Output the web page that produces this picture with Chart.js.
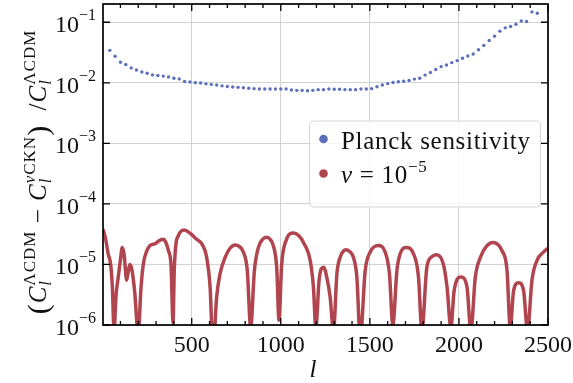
<!DOCTYPE html>
<html>
<head>
<meta charset="utf-8">
<script src="https://cdn.jsdelivr.net/npm/chart.js@4.4.0/dist/chart.umd.min.js"></script>
<style>
  html, body { margin: 0; padding: 0; background: #fff; }
</style>
</head>
<body>
<canvas id="chart" width="573" height="383"></canvas>
<script>
// Planck sensitivity (binned multipoles)
const planckL = [40, 70, 100, 130, 160, 190, 220, 250, 280, 310, 340, 370, 400, 430, 460, 490, 520, 550, 580, 610,
    640, 670, 700, 730, 760, 790, 820, 850, 880, 910, 940, 970, 1000, 1030, 1060, 1090, 1120, 1150, 1180, 1210,
    1240, 1270, 1300, 1330, 1360, 1390, 1420, 1450, 1480, 1510, 1540, 1570, 1600, 1630, 1660, 1690, 1720, 1750, 1780, 1810,
    1840, 1870, 1900, 1930, 1960, 1990, 2020, 2050, 2080, 2110, 2140, 2170, 2200, 2230, 2260, 2290, 2320, 2350, 2380, 2410, 2440];
const planckVals = [0.0343, 0.0274, 0.0218, 0.0200, 0.0176, 0.0163, 0.0151, 0.0144, 0.0135, 0.0132,
    0.0129, 0.0125, 0.0119, 0.0116, 0.0105, 0.0103, 0.0100, 0.0099, 0.0096, 0.0094,
    0.0092, 0.0089, 0.0087, 0.0085, 0.0084, 0.0083, 0.0081, 0.0080, 0.0079, 0.0079,
    0.0079, 0.0079, 0.0079, 0.0079, 0.0076, 0.0075, 0.0075, 0.0074, 0.0075, 0.0077,
    0.0077, 0.0079, 0.0078, 0.0078, 0.0077, 0.0077, 0.0077, 0.0079, 0.0079, 0.0080,
    0.0086, 0.0092, 0.0097, 0.0101, 0.0104, 0.0106, 0.0109, 0.0115, 0.0119, 0.0134,
    0.0148, 0.0166, 0.0185, 0.0197, 0.0215, 0.0232, 0.0254, 0.0277, 0.0299, 0.0352,
    0.0414, 0.0500, 0.0589, 0.0712, 0.0807, 0.0849, 0.0927, 0.105, 0.103, 0.148, 0.141];

// nu = 1e-5 relative difference
const nuL = [2, 15, 31, 45, 55, 64, 75, 90, 100, 110, 120, 135, 145, 153, 165, 180, 200, 215, 228, 245,
    266, 294, 320, 341, 355, 369, 384, 395, 402, 410, 425, 457, 490, 528, 556, 584, 603, 620, 640, 659,
    687, 715, 743, 770, 790, 812, 831, 852, 874, 898, 921, 940, 958, 977, 990, 1005, 1030, 1071, 1100, 1127, 1165, 1183, 1197, 1215, 1240,
    1258, 1277, 1296, 1315, 1333, 1367, 1390, 1408, 1427, 1446, 1474, 1502, 1548, 1586, 1610, 1629, 1652, 1670, 1704, 1745, 1773,
    1792, 1820, 1850, 1876, 1913, 1933, 1955, 1973, 2011, 2045, 2067, 2092, 2120, 2155, 2191, 2241, 2270, 2288, 2307, 2335,
    2363, 2385, 2410, 2438, 2475, 2500];
const nuVals = [3.8e-5, 2.8e-5, 1.5e-5, 1.0e-5, 4e-6, 8e-7, 3e-6, 7e-6, 1.2e-5, 1.9e-5, 1.5e-5, 5.5e-6, 8e-6, 1.0e-5, 8e-6, 3.5e-6, 7e-7, 4e-6, 1.0e-5, 1.6e-5,
    2.05e-5, 2.2e-5, 2.5e-5, 2.6e-5, 2.3e-5, 1.7e-5, 9.5e-6, 1.1e-6, 8e-6, 2.0e-5, 3.0e-5, 3.7e-5, 3.3e-5, 2.6e-5, 2.2e-5, 1.3e-5, 4.3e-6, 4e-7, 2.9e-6, 7e-6,
    1.3e-5, 1.85e-5, 2.1e-5, 1.95e-5, 1.6e-5, 8e-6, 9e-7, 8e-6, 1.9e-5, 2.6e-5, 2.8e-5, 2.6e-5, 2.05e-5, 9e-6, 1.2e-6, 1.0e-5, 2.5e-5, 3.3e-5, 3.0e-5, 2.3e-5, 1.16e-5, 4.3e-6, 9e-7, 5.5e-6, 9e-6,
    6.2e-6, 2.9e-6, 8e-7, 7e-6, 1.3e-5, 1.75e-5, 1.6e-5, 1.3e-5, 6.2e-6, 6e-7, 8e-6, 1.6e-5, 2.05e-5, 1.6e-5, 7e-6, 1.0e-6, 8e-6, 1.5e-5, 1.9e-5, 1.5e-5, 6.2e-6,
    8e-7, 9e-6, 1.35e-5, 1.45e-5, 1.0e-5, 4.3e-6, 9e-7, 3.7e-6, 6.2e-6, 4.3e-6, 8e-7, 6.2e-6, 1.3e-5, 2.0e-5, 2.3e-5, 1.7e-5, 8e-6, 9e-7, 3.7e-6, 5e-6,
    3.7e-6, 8e-7, 5.5e-6, 1.16e-5, 1.6e-5, 1.85e-5];

const xMajor = [500, 1000, 1500, 2000, 2500];
const xMinor = [100, 200, 300, 400, 600, 700, 800, 900, 1100, 1200, 1300, 1400,
    1600, 1700, 1800, 1900, 2100, 2200, 2300, 2400];
const yDecades = [1e-6, 1e-5, 1e-4, 1e-3, 1e-2, 1e-1];
const yExps = ['6', '5', '4', '3', '2', '1'];

const BLUE = '#5b6fbd';
const RED = '#b0454f';
const SERIF = '"Liberation Serif", "DejaVu Serif", serif';

function setFont(ctx, size, italic) {
    ctx.font = (italic ? 'italic ' : '') + size + 'px ' + SERIF;
}

// draws a run of text pieces; {stack:[runA, runB]} puts runs on top of each other (sup/sub)
function drawRun(ctx, x, y, parts, draw) {
    let cx = x;
    for (const p of parts) {
        if (p.stack) {
            let w = 0;
            for (const run of p.stack) {
                w = Math.max(w, drawRun(ctx, cx, y, run, draw));
            }
            cx += w;
        } else {
            setFont(ctx, p.size, p.it);
            if (draw) ctx.fillText(p.t, cx, y + (p.dy || 0));
            cx += ctx.measureText(p.t).width;
        }
    }
    return cx - x;
}

const lcdmSup = [{ t: 'ΛCDM', size: 17, dy: -11 }];
const lSub = [{ t: 'l', size: 17, it: true, dy: 5 }];
const yTitle = [
    { t: '(', size: 30, dy: 2 },
    { t: 'C', size: 25, it: true },
    { stack: [lcdmSup, lSub] },
    { t: ' − ', size: 25 },
    { t: 'C', size: 25, it: true },
    { stack: [[{ t: 'ν', size: 17, it: true, dy: -11 }, { t: 'CKN', size: 17, dy: -11 }], lSub] },
    { t: ')', size: 30, dy: 2 },
    { t: '  /', size: 25 },
    { t: 'C', size: 25, it: true },
    { stack: [lcdmSup, lSub] }
];

const decorPlugin = {
    id: 'decor',
    afterDraw(chart) {
        const ctx = chart.ctx;
        const area = chart.chartArea;
        const xs = chart.scales.x;
        const ys = chart.scales.y;
        ctx.save();
        ctx.fillStyle = '#111';
        ctx.strokeStyle = '#000';
        ctx.textBaseline = 'alphabetic';

        // inward ticks on all four sides
        ctx.lineWidth = 1.3;
        ctx.beginPath();
        xMajor.forEach(v => {
            const px = xs.getPixelForValue(v);
            ctx.moveTo(px, area.bottom); ctx.lineTo(px, area.bottom - 7);
            ctx.moveTo(px, area.top); ctx.lineTo(px, area.top + 7);
        });
        xMinor.forEach(v => {
            const px = xs.getPixelForValue(v);
            ctx.moveTo(px, area.bottom); ctx.lineTo(px, area.bottom - 4);
            ctx.moveTo(px, area.top); ctx.lineTo(px, area.top + 4);
        });
        yDecades.forEach(v => {
            const py = ys.getPixelForValue(v);
            ctx.moveTo(area.left, py); ctx.lineTo(area.left + 7, py);
            ctx.moveTo(area.right, py); ctx.lineTo(area.right - 7, py);
        });
        ctx.stroke();

        // frame
        ctx.lineWidth = 1.7;
        ctx.strokeRect(area.left, area.top, area.right - area.left, area.bottom - area.top);

        // x tick labels
        ctx.textAlign = 'center';
        setFont(ctx, 24, false);
        xMajor.forEach(v => {
            ctx.fillText(String(v), xs.getPixelForValue(v), 352);
        });

        // y tick labels 10^-k
        ctx.textAlign = 'left';
        yDecades.forEach((v, i) => {
            const py = ys.getPixelForValue(v);
            const parts = [{ t: '10', size: 24 }, { t: '−' + yExps[i], size: 16, dy: -12 }];
            const w = drawRun(ctx, 0, 0, parts, false);
            drawRun(ctx, 96 - w, py + 10, parts, true);
        });

        // x axis title
        ctx.textAlign = 'center';
        setFont(ctx, 25, true);
        ctx.fillText('l', 313, 377);

        // y axis title, rotated
        ctx.textAlign = 'left';
        ctx.letterSpacing = '1px';
        const tw = drawRun(ctx, 0, 0, yTitle, false);
        ctx.save();
        ctx.translate(46, 172);
        ctx.rotate(-Math.PI / 2);
        drawRun(ctx, -tw / 2, 0, yTitle, true);
        ctx.restore();

        // legend
        ctx.letterSpacing = '0px';
        ctx.beginPath();
        ctx.roundRect(309.5, 121, 231, 86, 4);
        ctx.fillStyle = 'rgba(255,255,255,0.8)';
        ctx.fill();
        ctx.strokeStyle = '#d6d6d6';
        ctx.lineWidth = 1;
        ctx.stroke();

        ctx.fillStyle = BLUE;
        ctx.beginPath(); ctx.arc(323.5, 139, 4.3, 0, Math.PI * 2); ctx.fill();
        ctx.fillStyle = RED;
        ctx.beginPath(); ctx.arc(323.5, 173.5, 4.3, 0, Math.PI * 2); ctx.fill();

        ctx.fillStyle = '#111';
        ctx.letterSpacing = '0.7px';
        setFont(ctx, 25, false);
        ctx.fillText('Planck sensitivity', 341, 149);
        drawRun(ctx, 341, 183, [
            { t: 'ν', size: 25, it: true },
            { t: ' = 10', size: 25 },
            { t: '−5', size: 17, dy: -11 }
        ], true);
        ctx.letterSpacing = '0px';

        ctx.restore();
    }
};

const ctx = document.getElementById('chart').getContext('2d');
new Chart(ctx, {
    type: 'scatter',
    data: {
        datasets: [
            {
                label: 'Planck sensitivity',
                data: planckL.map((l, i) => ({ x: l, y: planckVals[i] })),
                backgroundColor: BLUE,
                borderWidth: 0,
                pointRadius: 1.7,
                showLine: false
            },
            {
                label: 'nu = 1e-5',
                data: nuL.map((l, i) => ({ x: l, y: nuVals[i] })),
                borderColor: RED,
                backgroundColor: RED,
                borderWidth: 3.5,
                pointRadius: 0,
                showLine: true,
                cubicInterpolationMode: 'monotone',
                clip: 0
            }
        ]
    },
    options: {
        responsive: false,
        animation: false,
        events: [],
        layout: { padding: { top: 2, right: 25, left: 0, bottom: 0 } },
        plugins: {
            legend: { display: false },
            tooltip: { enabled: false }
        },
        scales: {
            x: {
                type: 'linear',
                min: 2,
                max: 2500,
                afterBuildTicks: s => { s.ticks = xMajor.map(v => ({ value: v })); },
                afterFit: s => { s.height = 58; },
                ticks: { display: false },
                grid: { color: '#d2d2d2', lineWidth: 1, drawTicks: false },
                border: { display: false }
            },
            y: {
                type: 'logarithmic',
                min: 1e-6,
                max: 0.2,
                afterBuildTicks: s => { s.ticks = yDecades.map(v => ({ value: v })); },
                afterFit: s => { s.width = 103; },
                ticks: { display: false },
                grid: { color: '#d2d2d2', lineWidth: 1, drawTicks: false },
                border: { display: false }
            }
        }
    },
    plugins: [decorPlugin]
});
</script>
</body>
</html>
